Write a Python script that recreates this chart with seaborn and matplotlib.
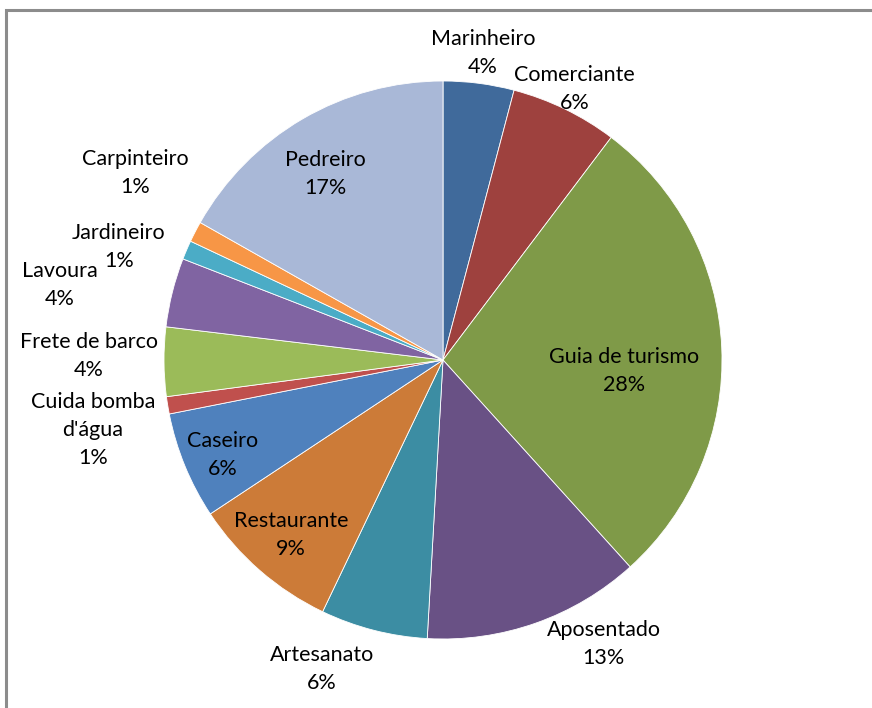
import numpy as np
import matplotlib
matplotlib.use("Agg")
import matplotlib.pyplot as plt
import seaborn as sns
from matplotlib.patches import Rectangle

sns.set_theme(style="white")
plt.rcParams['font.family'] = ['Lato', 'DejaVu Sans']

categories = ["Marinheiro", "Comerciante", "Guia de turismo", "Aposentado", "Artesanato",
              "Restaurante", "Caseiro", "Cuida bomba\nd'água", "Frete de barco", "Lavoura",
              "Jardineiro", "Carpinteiro", "Pedreiro"]
values = [4.1, 6.2, 28.0, 12.6, 6.2, 8.6, 6.2, 1.0, 4.0, 4.0, 1.1, 1.2, 16.8]
colors = ["#406A9B", "#9E413E", "#7F9A48", "#695185", "#3C8DA3", "#CC7B38", "#4F81BD",
          "#C0504D", "#9BBB59", "#8064A2", "#4BACC6", "#F79646", "#A9B8D7"]
# radial label distance (fraction of radius) and clockwise angular nudge (degrees) per label
label_r = [1.11, 1.08, 0.65, 1.17, 1.19, 0.83, 0.86, 1.28, 1.27, 1.40, 1.23, 1.29, 0.79]
label_da = [0, 0, 6, -10, 7, 0, -1, -2, 1, -3, -4, 4, -2]

fig = plt.figure(figsize=(8.72, 7.08), dpi=100)
ax = fig.add_axes([0, 0, 1, 1])
W, H = 872, 708
cx, cy, R = 443, H - 360, 279

wedges, _ = ax.pie(values, colors=colors, startangle=90, counterclock=False,
                   center=(cx, cy), radius=R,
                   wedgeprops=dict(edgecolor='white', linewidth=0.6))
ax.set_xlim(0, W)
ax.set_ylim(0, H)
ax.set_aspect('equal')
ax.axis('off')

total = sum(values)
for w, lab, v, rf, da in zip(wedges, categories, values, label_r, label_da):
    mid = 0.5 * (w.theta1 + w.theta2) - da
    ang = np.deg2rad(mid)
    x = cx + rf * R * np.cos(ang)
    y = cy + rf * R * np.sin(ang)
    ax.text(x, y, f"{lab}\n{v / total * 100:.0f}%", ha='center', va='center',
            fontsize=15.5, color='black', linespacing=1.5)

fig.patches.append(Rectangle((6, -10), 900, 708, transform=None, fill=False,
                             edgecolor='#8C8C8C', linewidth=2.2))
fig.savefig("out.png", dpi=100)
